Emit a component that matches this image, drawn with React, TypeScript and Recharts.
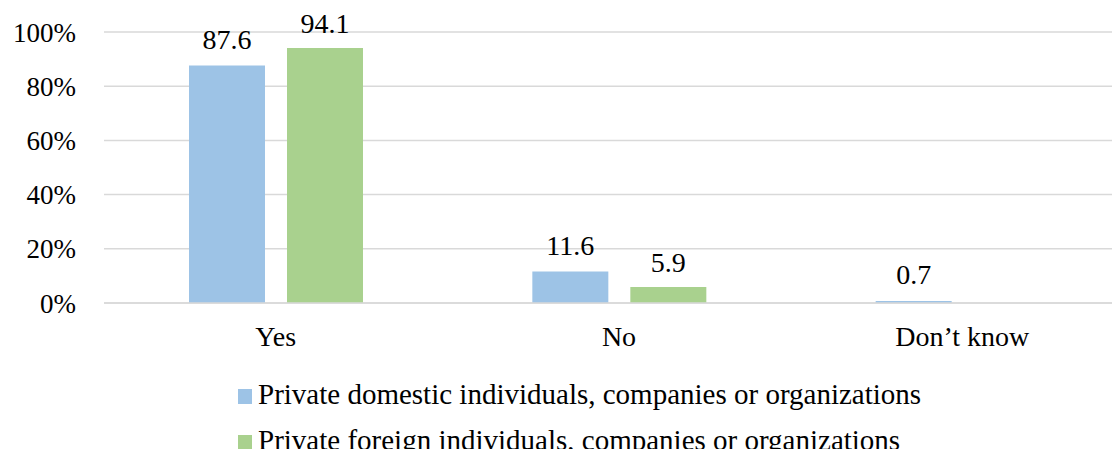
import { BarChart, Bar, XAxis, YAxis, CartesianGrid, Legend, LabelList } from "recharts";

const categories = ["Yes", "No", "Don’t know"];
const domestic = [87.6, 11.6, 0.7];
const foreign: (number | null)[] = [94.1, 5.9, null];
const yTicks = [0, 20, 40, 60, 80, 100];

const seriesNames = [
    "Private domestic individuals, companies or organizations",
    "Private foreign individuals, companies or organizations",
];
const colors = ["#9DC3E6", "#A9D18E"];

const data = categories.map((name, i) => ({
    name,
    domestic: domestic[i],
    foreign: foreign[i],
}));

const font = '"Liberation Serif", "Times New Roman", serif';

function LegendBox() {
    return (
        <div style={{ fontFamily: font, fontSize: 29, lineHeight: "46px", color: "#000", whiteSpace: "nowrap" }}>
            {seriesNames.map((s, i) => (
                <div key={s}>
                    <span
                        style={{
                            display: "inline-block",
                            width: 14,
                            height: 15,
                            background: colors[i],
                            marginRight: 6,
                            verticalAlign: "baseline",
                        }}
                    />
                    {s}
                </div>
            ))}
        </div>
    );
}

export default function App() {
    return (
        <div style={{ width: 1112, height: 449, overflow: "hidden", marginBottom: -8 }}>
            <BarChart
                width={1126}
                height={449}
                data={data}
                margin={{ top: 24, right: 0, left: 0, bottom: 104 }}
                barSize={76}
                barGap={22}
            >
                <CartesianGrid vertical={false} stroke="#d9d9d9" strokeWidth={1.5} />
                <XAxis
                    dataKey="name"
                    height={50}
                    axisLine={{ stroke: "#d9d9d9", strokeWidth: 1.5 }}
                    tickLine={false}
                    tickMargin={17}
                    tick={{ fontFamily: font, fontSize: 28, fill: "#000" }}
                />
                <YAxis
                    width={96}
                    domain={[0, 100]}
                    ticks={yTicks}
                    tickFormatter={(v) => `${v}%`}
                    axisLine={false}
                    tickLine={false}
                    tickMargin={22}
                    tick={{ fontFamily: font, fontSize: 27, fill: "#000" }}
                />
                <Legend
                    layout="horizontal"
                    verticalAlign="middle"
                    content={() => <LegendBox />}
                    wrapperStyle={{ top: 363, left: 230, width: 800, height: 92 }}
                />
                <Bar dataKey="domestic" name={seriesNames[0]} fill={colors[0]} isAnimationActive={false}>
                    <LabelList
                        dataKey="domestic"
                        position="top"
                        offset={17}
                        style={{ fontFamily: font, fontSize: 28, fill: "#000" }}
                    />
                </Bar>
                <Bar dataKey="foreign" name={seriesNames[1]} fill={colors[1]} isAnimationActive={false}>
                    <LabelList
                        dataKey="foreign"
                        position="top"
                        offset={15}
                        style={{ fontFamily: font, fontSize: 28, fill: "#000" }}
                    />
                </Bar>
            </BarChart>
        </div>
    );
}
